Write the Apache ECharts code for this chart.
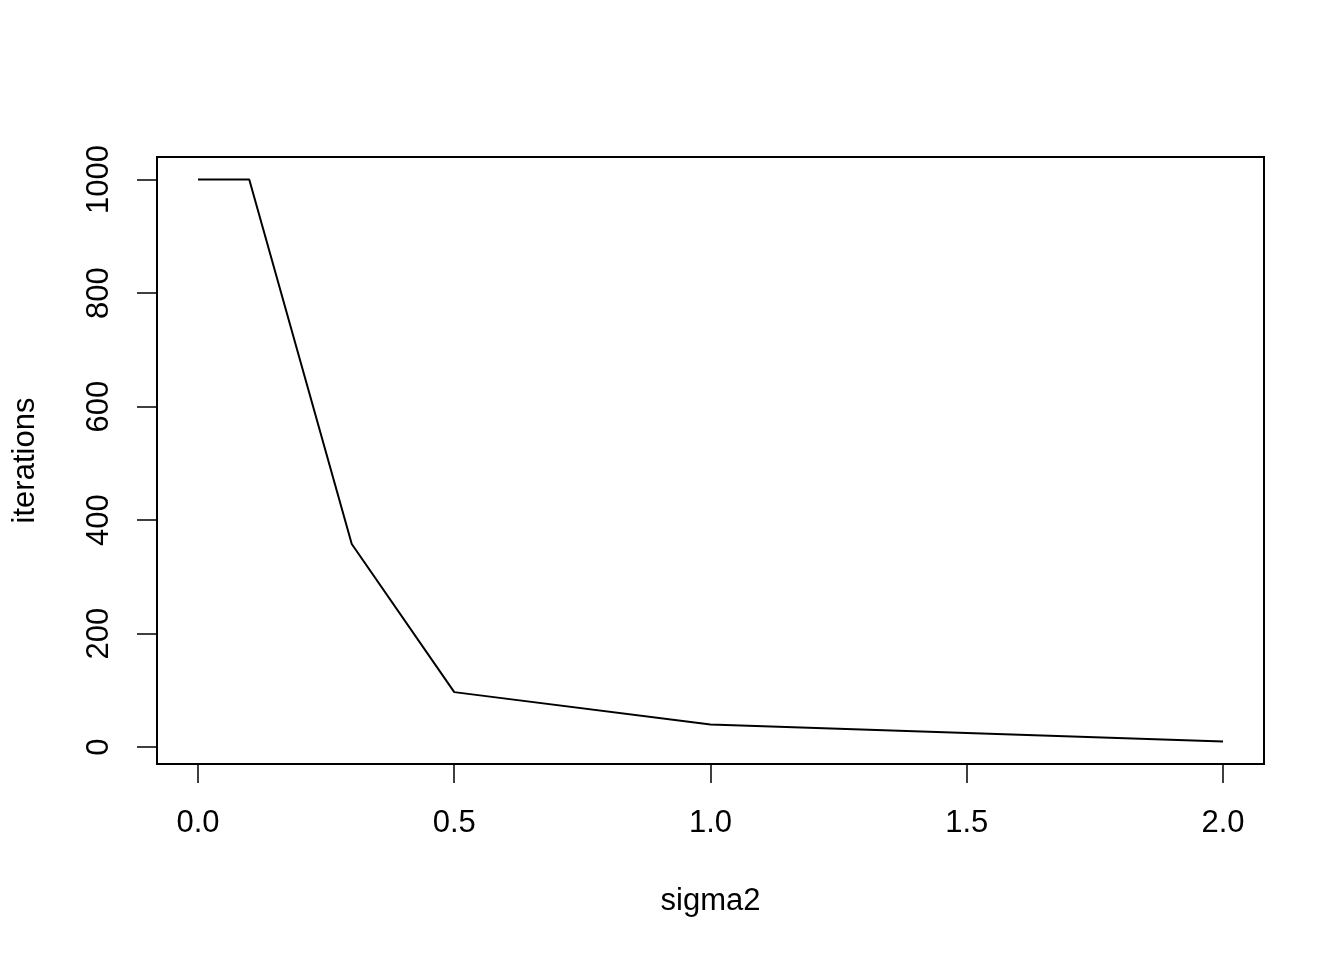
<!DOCTYPE html>
<html>
<head>
<meta charset="utf-8">
<script src="https://cdn.jsdelivr.net/npm/echarts@6/dist/echarts.min.js"></script>
<style>
html,body{margin:0;padding:0;background:#fff;}
#c{width:1344px;height:960px;}
</style>
</head>
<body>
<div id="c"></div>
<script>
const sigma2 = [0, 0.1, 0.3, 0.5, 1.0, 2.0];
const iterations = [1000, 1000, 358, 97, 40, 10];
const xTicks = [0, 0.5, 1.0, 1.5, 2.0];
const yTicks = [0, 200, 400, 600, 800, 1000];

const xMin = Math.min(...sigma2), xMax = Math.max(...sigma2);
const yMin = Math.min(...iterations), yMax = Math.max(...iterations);
const xPad = (xMax - xMin) * 0.04, yPad = (yMax - yMin) * 0.04;

const chart = echarts.init(document.getElementById('c'), null, {renderer: 'canvas'});
const font = 'Liberation Sans, Arial, Helvetica, sans-serif';
chart.setOption({
  animation: false,
  backgroundColor: '#fff',
  grid: {left: 157, right: 80, top: 157, bottom: 196, show: true, borderColor: '#000', borderWidth: 2, backgroundColor: 'transparent'},
  xAxis: {
    type: 'value', min: xMin - xPad, max: xMax + xPad,
    splitLine: {show: false},
    axisLine: {show: false, onZero: false},
    axisTick: {show: true, customValues: xTicks, length: 19, inside: false, lineStyle: {color: '#000', width: 1.5}},
    axisLabel: {customValues: xTicks, formatter: v => v.toFixed(1), fontSize: 31, color: '#000', fontFamily: font, margin: 44},
    name: 'sigma2', nameLocation: 'middle', nameGap: 122,
    nameTextStyle: {fontSize: 31, color: '#000', fontFamily: font}
  },
  yAxis: {
    type: 'value', min: yMin - yPad, max: yMax + yPad,
    splitLine: {show: false},
    axisLine: {show: false, onZero: false},
    axisTick: {show: true, customValues: yTicks, length: 20, inside: false, lineStyle: {color: '#000', width: 1.5}},
    axisLabel: {customValues: yTicks, formatter: v => String(v), rotate: 90, fontSize: 31, color: '#000', fontFamily: font, margin: 42},
    name: 'iterations', nameLocation: 'middle', nameGap: 116, nameRotate: 90,
    nameTextStyle: {fontSize: 31, color: '#000', fontFamily: font}
  },
  series: [{
    type: 'line',
    data: sigma2.map((x, i) => [x, iterations[i]]),
    showSymbol: false,
    symbol: 'none',
    lineStyle: {color: '#000', width: 2},
    z: 3
  }]
});
</script>
</body>
</html>
